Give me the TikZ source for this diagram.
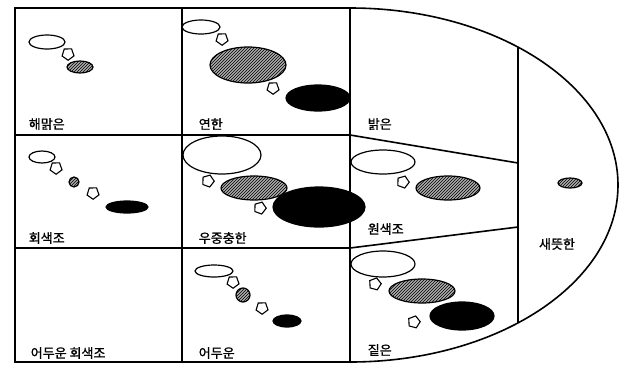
\documentclass[tikz,border=0pt]{standalone}
\usepackage{fontspec}
\newfontfamily\hangul[FakeBold=1]{Noto Sans CJK KR}
\usetikzlibrary{shapes.geometric,patterns}

\begin{document}
\begin{tikzpicture}[x=1pt,y=-1pt,line width=1.6pt,
    sz/.style 2 args={minimum width=#1pt,minimum height=#2pt},
    lite/.style={ellipse,draw,line width=1.2pt,fill=white,inner sep=0pt},
    hatch/.style={ellipse,draw,line width=1.2pt,fill=gray!65,postaction={pattern=north east lines},inner sep=0pt},
    dark/.style={ellipse,draw,line width=1.2pt,fill=black,inner sep=0pt},
    penta/.style={regular polygon,regular polygon sides=5,draw,line width=1.1pt,fill=white,minimum size=12.5pt,inner sep=0pt},
    tone/.style={font=\hangul\fontsize{13}{15}\selectfont,anchor=west,inner sep=0pt}]
  \useasboundingbox (0,0) rectangle (622,368);
  \draw (15,8) rectangle (350,362);
  \draw (182,8) -- (182,362);
  \draw (15,135) -- (350,135) -- (518,163);
  \draw (15,248) -- (350,248) -- (518,227);
  \draw (350,8) arc[start angle=90,end angle=-90,x radius=268pt,y radius=177pt];
  \draw (518,47) -- (518,323);

  \node[lite,sz={36}{14}] (paleW) at (47,42) {};
  \node[hatch,sz={26}{12}] (paleH) at (80,67) {};
  \node[penta,rotate=-35] (paleP) at (68,54) {};
  \node[tone] (pale) at (28,124) {해맑은};

  \node[lite,sz={38}{14}] (lightW) at (201,27) {};
  \node[hatch,sz={76}{36}] (lightH) at (248,65) {};
  \node[dark,sz={64}{26}] (lightD) at (318,98) {};
  \node[penta,rotate=-35] (lightP1) at (222,39) {};
  \node[penta,rotate=-35] (lightP2) at (273,88) {};
  \node[tone] (light) at (198,124) {연한};

  \node[tone] (bright) at (367,124) {밝은};

  \node[lite,sz={26}{12}] (grayW) at (42,157) {};
  \node[hatch,sz={10}{10}] (grayH) at (74,182) {};
  \node[dark,sz={42}{12}] (grayD) at (127,207) {};
  \node[penta,rotate=-35] (grayP1) at (56,168) {};
  \node[penta,rotate=-35] (grayP2) at (93,193) {};
  \node[tone] (grayish) at (28,238) {회색조};

  \node[lite,sz={78}{38}] (dullW) at (222,155) {};
  \node[hatch,sz={66}{24}] (dullH) at (254,188) {};
  \node[dark,sz={92}{40}] (dullD) at (319,207) {};
  \node[penta,rotate=-20] (dullP1) at (208,181) {};
  \node[penta,rotate=-20] (dullP2) at (260,208) {};
  \node[tone] (dull) at (198,238) {우중충한};

  \node[lite,sz={64}{24}] (strongW) at (383,162) {};
  \node[hatch,sz={64}{24}] (strongH) at (448,188) {};
  \node[penta,rotate=-20] (strongP) at (403,182) {};
  \node[tone] (strong) at (367,229) {원색조};

  \node[tone] (darkgray) at (30,353) {어두운 회색조};

  \node[lite,sz={38}{12}] (darkW) at (214,271) {};
  \node[hatch,sz={14}{14}] (darkH) at (243,295) {};
  \node[dark,sz={28}{12}] (darkD) at (287,321) {};
  \node[penta,rotate=-35] (darkP1) at (233,282) {};
  \node[penta,rotate=-35] (darkP2) at (262,308) {};
  \node[tone] (darkish) at (198,353) {어두운};

  \node[lite,sz={64}{26}] (deepW) at (383,264) {};
  \node[hatch,sz={66}{24}] (deepH) at (422,291) {};
  \node[dark,sz={64}{28}] (deepD) at (462,316) {};
  \node[penta,rotate=-15] (deepP1) at (375,284) {};
  \node[penta,rotate=-15] (deepP2) at (414,322) {};
  \node[tone] (deep) at (367,350) {짙은};

  \node[hatch,sz={24}{10}] (vividH) at (570,183) {};
  \node[tone,anchor=center] (vivid) at (557,244) {새뜻한};
\end{tikzpicture}
\end{document}
